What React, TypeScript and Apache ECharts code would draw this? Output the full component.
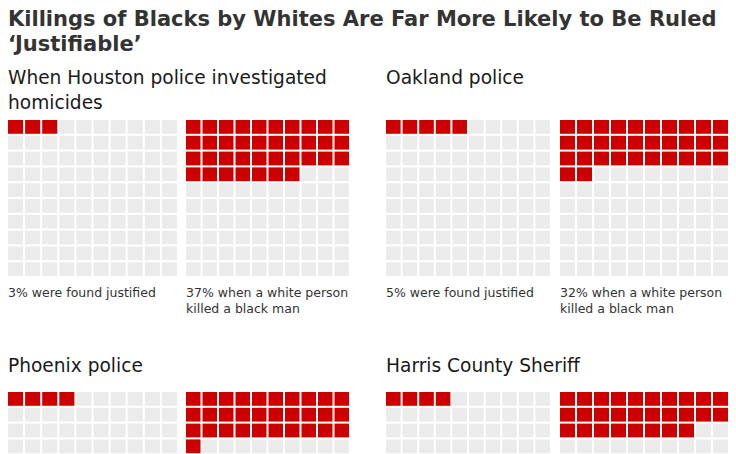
import React, { useEffect, useRef } from "react";
import * as echarts from "echarts";

const chartTitleLines = ["Killings of Blacks by Whites Are Far More Likely to Be Ruled", "‘Justifiable’"];
const agencyLabels = ["When Houston police investigated\nhomicides", "Oakland police", "Phoenix police", "Harris County Sheriff"];
const allFoundJustifiedPct = [3, 5, 4, 4];
const whiteKilledBlackPct = [37, 32, 31, 28];
const showCaptions = [true, true, false, false];

const RED = "#cc0000";
const GRAY = "#ebebeb";
const FONT = "DejaVu Sans";

// layout (pixels)
const panelLefts = [[8, 186], [386, 560]];
const gridWidths = [[171, 165], [166, 170]];
const rowTops = [120, 392];
const gridHeight = 158;

function cells(pct: number) {
  const out: number[][] = [];
  for (let i = 0; i < 100; i++) out.push([i % 10, Math.floor(i / 10), i < pct ? 1 : 0]);
  return out;
}

export default function App() {
  const ref = useRef<HTMLDivElement>(null);
  useEffect(() => {
    if (!ref.current) return;
    const chart = echarts.init(ref.current, undefined, { renderer: "svg" });
    const grids: any[] = [];
    const xAxes: any[] = [];
    const yAxes: any[] = [];
    const series: any[] = [];
    const graphics: any[] = [];

    graphics.push({
      type: "text",
      x: 8,
      y: 19,
      style: { text: chartTitleLines[0], fontFamily: FONT, fontSize: 21, fontWeight: "bold", fill: "#333", verticalAlign: "middle" },
    });
    graphics.push({
      type: "text",
      x: 8,
      y: 44,
      style: { text: chartTitleLines[1], fontFamily: FONT, fontSize: 21, fontWeight: "bold", fill: "#333", verticalAlign: "middle" },
    });

    agencyLabels.forEach((label, k) => {
      const r = Math.floor(k / 2);
      const c = k % 2;
      const top = rowTops[r];
      const lines = label.split("\n");
      lines.forEach((ln, li) => {
        graphics.push({
          type: "text",
          x: panelLefts[c][0],
          y: (r === 0 ? 77 : 365) + li * 25,
          style: { text: ln, fontFamily: FONT, fontSize: 18.6, fill: "#1a1a1a", verticalAlign: "middle" },
        });
      });
      const pcts = [allFoundJustifiedPct[k], whiteKilledBlackPct[k]];
      pcts.forEach((pct, j) => {
        const gi = grids.length;
        grids.push({ left: panelLefts[c][j], top, width: gridWidths[c][j], height: gridHeight, containLabel: false });
        xAxes.push({ type: "value", gridIndex: gi, min: 0, max: 10, show: false });
        yAxes.push({ type: "value", gridIndex: gi, min: 0, max: 10, inverse: true, show: false });
        series.push({
          type: "custom",
          xAxisIndex: gi,
          yAxisIndex: gi,
          data: cells(pct),
          renderItem: (params: any, api: any) => {
            const col = api.value(0);
            const row = api.value(1);
            const on = api.value(2);
            const p0 = api.coord([col, row]);
            const p1 = api.coord([col + 1, row + 1]);
            return {
              type: "rect",
              shape: { x: p0[0], y: p0[1], width: p1[0] - p0[0] - 2, height: p1[1] - p0[1] - 2 },
              style: { fill: on ? RED : GRAY },
            };
          },
        });
      });
      if (showCaptions[k]) {
        const capY = top + gridHeight + 14;
        graphics.push({
          type: "text",
          x: panelLefts[c][0],
          y: capY,
          style: { text: `${allFoundJustifiedPct[k]}% were found justified`, fontFamily: FONT, fontSize: 12.5, fill: "#333", verticalAlign: "middle" },
        });
        graphics.push({
          type: "text",
          x: panelLefts[c][1],
          y: capY,
          style: { text: `${whiteKilledBlackPct[k]}% when a white person`, fontFamily: FONT, fontSize: 12.5, fill: "#333", verticalAlign: "middle" },
        });
        graphics.push({
          type: "text",
          x: panelLefts[c][1],
          y: capY + 16,
          style: { text: "killed a black man", fontFamily: FONT, fontSize: 12.5, fill: "#333", verticalAlign: "middle" },
        });
      }
    });

    chart.setOption({
      animation: false,
      backgroundColor: "#ffffff",
      grid: grids,
      xAxis: xAxes,
      yAxis: yAxes,
      series,
      graphic: graphics,
    });
    return () => chart.dispose();
  }, []);
  return <div ref={ref} style={{ position: "fixed", left: 0, top: 0, width: 736, height: 620 }} />;
}
